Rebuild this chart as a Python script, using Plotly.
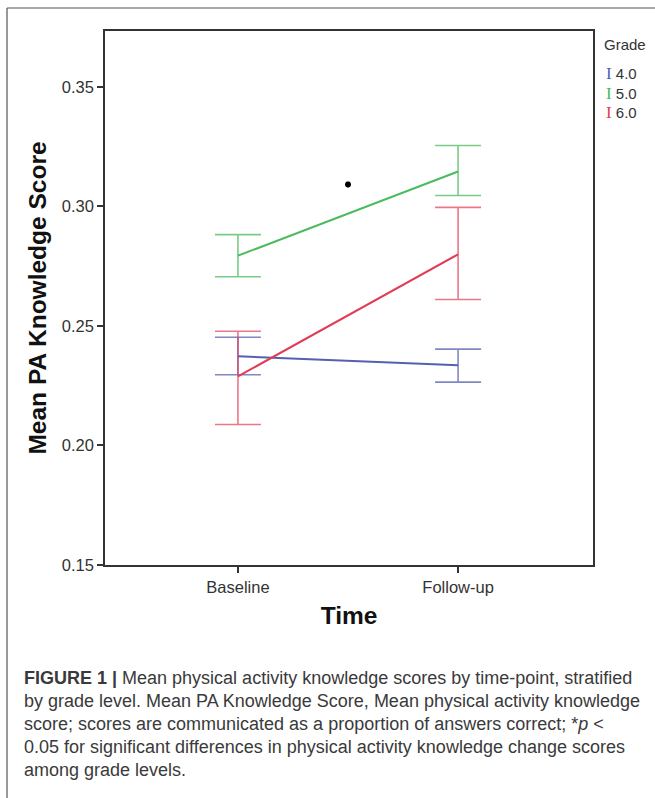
import plotly.graph_objects as go

# ---- data ----
time_points = ["Baseline", "Follow-up"]
grades = ["4.0", "5.0", "6.0"]
mean_g4 = [0.2373, 0.2336]
upper_g4 = [0.2453, 0.2403]
lower_g4 = [0.2296, 0.2265]
mean_g5 = [0.2794, 0.3146]
upper_g5 = [0.2882, 0.3255]
lower_g5 = [0.2706, 0.3046]
mean_g6 = [0.2289, 0.2800]
upper_g6 = [0.2478, 0.2996]
lower_g6 = [0.2088, 0.2611]
y_ticks = [0.15, 0.20, 0.25, 0.30, 0.35]
y_tick_labels = ["0.15", "0.20", "0.25", "0.30", "0.35"]
sig_x = [0.5]
sig_y = [0.3092]
caption_lines = [
    "<b>FIGURE 1 |</b> Mean physical activity knowledge scores by time-point, stratified",
    "by grade level. Mean PA Knowledge Score, Mean physical activity knowledge",
    "score; scores are communicated as a proportion of answers correct; *<i>p</i> &lt;",
    "0.05 for significant differences in physical activity knowledge change scores",
    "among grade levels.",
]

line_colors = ["#5560b0", "#4cba5e", "#e23c55"]
bar_colors = ["rgba(85,96,176,0.75)", "rgba(76,186,94,0.75)", "rgba(226,60,85,0.7)"]

W, H = 655, 798
L, R, T, B = 105, 593, 31, 565


def px_x(p):
    return (p - L) / (R - L)


def px_y(p):
    return (B - p) / (B - T)


xs = list(range(len(time_points)))
fig = go.Figure()
series = [(mean_g4, upper_g4, lower_g4), (mean_g5, upper_g5, lower_g5), (mean_g6, upper_g6, lower_g6)]
# error bars first (lighter), then lines on top
for i, (m, u, lo) in enumerate(series):
    fig.add_trace(go.Scatter(
        x=xs, y=m, mode="markers", marker=dict(size=1, color="rgba(0,0,0,0)"),
        error_y=dict(type="data", symmetric=False,
                     array=[a - b for a, b in zip(u, m)],
                     arrayminus=[b - c for b, c in zip(m, lo)],
                     color=bar_colors[i], thickness=1.6, width=23),
        showlegend=False, hoverinfo="skip"))
for i, (m, u, lo) in enumerate(series):
    fig.add_trace(go.Scatter(
        x=xs, y=m, mode="lines", name=grades[i],
        line=dict(color=line_colors[i], width=2), showlegend=False))

fig.add_trace(go.Scatter(x=sig_x, y=sig_y, mode="markers",
                         marker=dict(symbol="asterisk-open", size=5, color="black",
                                     line=dict(color="black", width=2)),
                         showlegend=False, hoverinfo="skip"))

tick_font = dict(family="Liberation Sans, Arial, sans-serif", size=16.5, color="#333333")
title_font = dict(family="Liberation Sans, Arial", size=24.5, color="#111")
fig.update_xaxes(range=[-0.604, 1.613], tickvals=xs, ticktext=time_points,
                 ticks="outside", ticklen=6, tickcolor="#333", tickwidth=1.5,
                 showline=True, linecolor="#333", linewidth=1.5, mirror=True,
                 showgrid=False, zeroline=False, tickfont=tick_font,
                 title=dict(text="<b>Time</b>", standoff=12, font=title_font))
fig.update_yaxes(range=[0.15, 0.3734], tickvals=y_ticks, ticktext=y_tick_labels,
                 ticks="outside", ticklen=6, tickcolor="#333", tickwidth=1.5,
                 showline=True, linecolor="#333", linewidth=1.5, mirror=True,
                 showgrid=False, zeroline=False, tickfont=tick_font,
                 title=dict(text="<b>Mean PA Knowledge Score</b>", standoff=8, font=title_font))

annotations = []
# legend built from grades
annotations.append(dict(xref="paper", yref="paper", x=px_x(602), y=px_y(45),
                        xanchor="left", yanchor="middle", showarrow=False, text="Grade",
                        font=dict(family="Liberation Sans, Arial", size=15, color="#333")))
legend_text = "<br>".join(
    f'<span style="color:{line_colors[i]};font-family:Liberation Serif;font-size:17px">I</span> {g}'
    for i, g in enumerate(grades))
annotations.append(dict(
    xref="paper", yref="paper", x=px_x(604), y=px_y(62),
    xanchor="left", yanchor="top", align="left", showarrow=False, text=legend_text,
    font=dict(family="Liberation Sans, Arial", size=15, color="#333")))
# caption
for j, line in enumerate(caption_lines):
    annotations.append(dict(
        xref="paper", yref="paper", x=px_x(22), y=px_y(678 + 23 * j),
        xanchor="left", yanchor="middle", showarrow=False, text=line,
        font=dict(family="Liberation Sans, Arial", size=18, color="#3a3a3a")))

shapes = [
    dict(type="line", xref="paper", yref="paper", x0=px_x(7), x1=px_x(W), y0=px_y(8), y1=px_y(8),
         line=dict(color="#555", width=1.2)),
    dict(type="line", xref="paper", yref="paper", x0=px_x(7), x1=px_x(7), y0=px_y(8), y1=px_y(H),
         line=dict(color="#555", width=1.2)),
]

fig.update_layout(width=W, height=H, margin=dict(l=L, r=W - R, t=T, b=H - B),
                  paper_bgcolor="white", plot_bgcolor="white",
                  annotations=annotations, shapes=shapes, showlegend=False)
fig.write_html("out.html", config={"displayModeBar": False},
               post_script="document.body.style.margin='0';document.body.style.overflow='hidden';")
